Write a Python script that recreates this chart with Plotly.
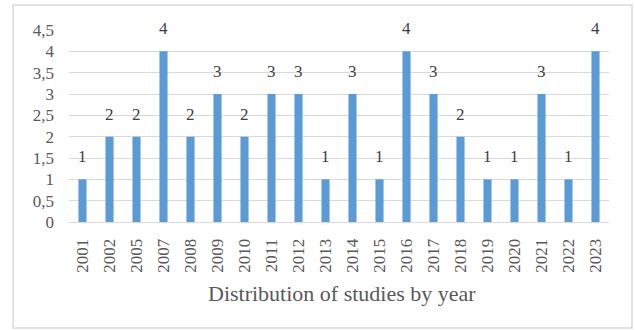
import plotly.graph_objects as go

# Number of studies per publication year
years = ["2001", "2002", "2005", "2007", "2008", "2009", "2010", "2011", "2012", "2013",
         "2014", "2015", "2016", "2017", "2018", "2019", "2020", "2021", "2022", "2023"]
studies = [1, 2, 2, 4, 2, 3, 2, 3, 3, 1, 3, 1, 4, 3, 2, 1, 1, 3, 1, 4]

y_tick_values = [0, 0.5, 1, 1.5, 2, 2.5, 3, 3.5, 4, 4.5]
y_tick_labels = ["0", "0,5", "1", "1,5", "2", "2,5", "3", "3,5", "4", "4,5"]

axis_title = "Distribution of studies by year"

SERIF = "'Times New Roman', 'Liberation Serif', 'DejaVu Serif', serif"
TEXT_GREY = "#595959"
GRID_GREY = "#D9D9D9"
BAR_BLUE = "#5B9BD5"

fig = go.Figure(
    go.Bar(
        x=years,
        y=studies,
        marker=dict(color=BAR_BLUE, line=dict(width=0)),
        width=0.3,
        hoverinfo="x+y",
    )
)

# value labels above each bar (placed by category index)
for i, n in enumerate(studies):
    fig.add_annotation(
        x=i, y=n, text=str(n), showarrow=False,
        yanchor="bottom", yshift=11,
        font=dict(family=SERIF, size=17, color="#404040"),
    )

# axis title below the rotated year labels
fig.add_annotation(
    xref="paper", yref="paper", x=0.506, y=-0.37,
    text=axis_title, showarrow=False,
    xanchor="center", yanchor="middle",
    font=dict(family=SERIF, size=22, color=TEXT_GREY),
)

# light frame around the whole chart
fig.add_shape(
    type="rect", xref="paper", yref="paper",
    x0=-0.1037, x1=1.0426, y0=-0.552, y1=1.130,
    line=dict(color=GRID_GREY, width=1.5), fillcolor="rgba(0,0,0,0)", layer="below",
)

fig.update_layout(
    width=635, height=330,
    margin=dict(l=69, r=26, t=30, b=108, autoexpand=False),
    paper_bgcolor="white", plot_bgcolor="white",
    showlegend=False,
    font=dict(family=SERIF, color=TEXT_GREY),
    xaxis=dict(
        type="category",
        range=[-0.5, len(years) - 0.5],
        tickangle=-90,
        tickfont=dict(family=SERIF, size=17, color=TEXT_GREY),
        ticks="", ticklabelstandoff=9,
        showgrid=False, showline=True, linecolor=GRID_GREY, linewidth=1,
        fixedrange=True,
    ),
    yaxis=dict(
        range=[0, 4.5],
        tickvals=y_tick_values, ticktext=y_tick_labels,
        tickfont=dict(family=SERIF, size=17, color=TEXT_GREY),
        ticks="", ticklabelstandoff=14,
        showgrid=True, gridcolor=GRID_GREY, gridwidth=1,
        zeroline=False, showline=False,
        fixedrange=True,
    ),
)

fig.write_html("out.html", config={"displayModeBar": False})
